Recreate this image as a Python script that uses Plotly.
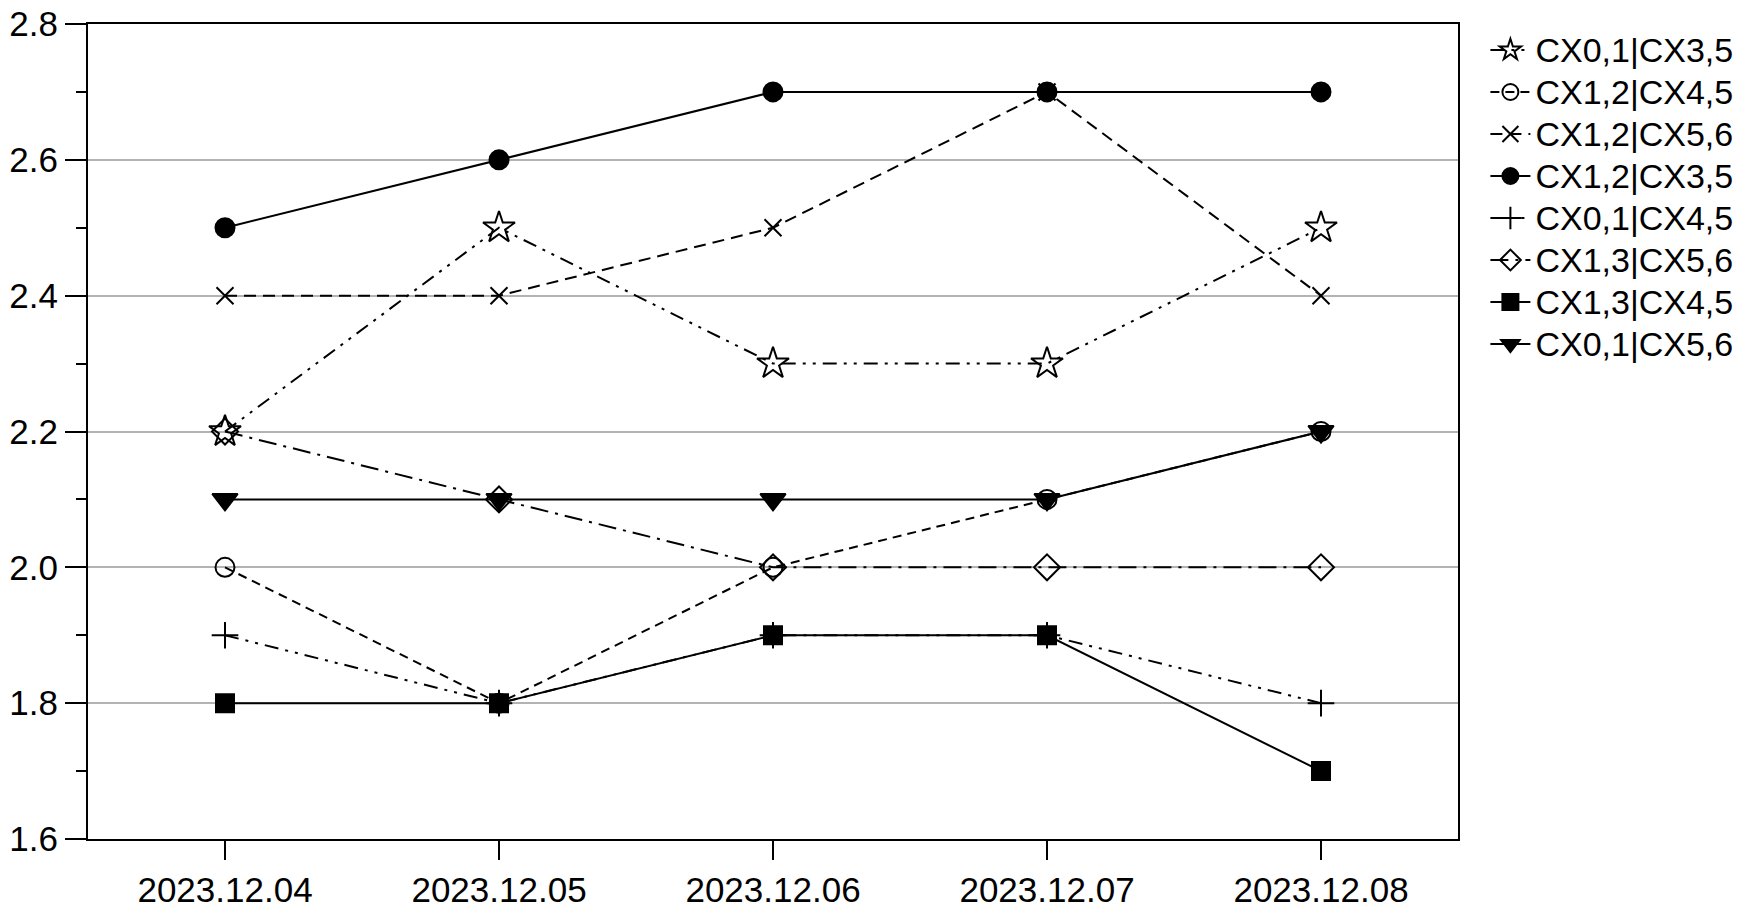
import plotly.graph_objects as go

dates = ["2023.12.04", "2023.12.05", "2023.12.06", "2023.12.07", "2023.12.08"]
y_ticks = [1.6, 1.8, 2.0, 2.2, 2.4, 2.6, 2.8]
y_tick_text = ["1.6", "1.8", "2.0", "2.2", "2.4", "2.6", "2.8"]

s_cx01_cx35 = [2.2, 2.5, 2.3, 2.3, 2.5]
s_cx12_cx45 = [2.0, 1.8, 2.0, 2.1, 2.2]
s_cx12_cx56 = [2.4, 2.4, 2.5, 2.7, 2.4]
s_cx12_cx35 = [2.5, 2.6, 2.7, 2.7, 2.7]
s_cx01_cx45 = [1.9, 1.8, 1.9, 1.9, 1.8]
s_cx13_cx56 = [2.2, 2.1, 2.0, 2.0, 2.0]
s_cx13_cx45 = [1.8, 1.8, 1.9, 1.9, 1.7]
s_cx01_cx56 = [2.1, 2.1, 2.1, 2.1, 2.2]

DDD = "14px,7px,3px,7px,3px,7px"
series = [
    ("CX0,1|CX3,5", s_cx01_cx35, "star-open", 24, DDD),
    ("CX1,2|CX4,5", s_cx12_cx45, "circle-open", 19, "9px,6px"),
    ("CX1,2|CX5,6", s_cx12_cx56, "x-thin", 17, "12px,7px"),
    ("CX1,2|CX3,5", s_cx12_cx35, "circle", 19, "solid"),
    ("CX0,1|CX4,5", s_cx01_cx45, "cross-thin", 19, DDD),
    ("CX1,3|CX5,6", s_cx13_cx56, "diamond-open", 20, "18px,7px,3px,7px"),
    ("CX1,3|CX4,5", s_cx13_cx45, "square", 18, "solid"),
    ("CX0,1|CX5,6", s_cx01_cx56, "triangle-down", 22, "solid"),
]

fig = go.Figure()
for name, vals, sym, size, dash in series:
    fig.add_trace(go.Scatter(
        x=dates, y=vals, name="<span style='font-size:34px'>%s</span>" % name,
        mode="lines+markers",
        line=dict(color="black", width=2, dash=dash),
        marker=dict(symbol=sym, size=size, color="black",
                    line=dict(color="black", width=2)),
    ))

fig.update_layout(
    width=1755, height=913,
    margin=dict(l=80, r=305, t=16, b=82, autoexpand=False),
    paper_bgcolor="white", plot_bgcolor="white",
    font=dict(family="Liberation Sans, Arial, sans-serif", size=35, color="black"),
    showlegend=True,
    legend=dict(x=1.02, xanchor="left", y=1.0, yanchor="top",
                xref="paper", font=dict(size=30), bgcolor="rgba(0,0,0,0)",
                itemwidth=40, tracegroupgap=0),
)
fig.update_xaxes(
    type="category", range=[-0.5, 4.5], automargin=False,
    showline=True, linecolor="black", linewidth=2, mirror=True,
    ticks="outside", ticklen=19, tickwidth=2, tickcolor="black",
    showgrid=False, zeroline=False, ticklabeloverflow="allow",
    tickfont=dict(size=35),
)
fig.update_yaxes(
    range=[1.6, 2.8], tickmode="array", tickvals=y_ticks, ticktext=y_tick_text,
    automargin=False, ticklabeloverflow="allow",
    showline=True, linecolor="black", linewidth=2, mirror=True,
    ticks="outside", ticklen=21, tickwidth=2, tickcolor="black",
    showgrid=True, gridcolor="#b3b3b3", gridwidth=2,
    zeroline=False,
    minor=dict(tickmode="linear", tick0=1.6, dtick=0.1, ticks="outside",
               ticklen=10, tickwidth=2, tickcolor="black", showgrid=False),
    tickfont=dict(size=35),
)

fig.write_html("out.html")
